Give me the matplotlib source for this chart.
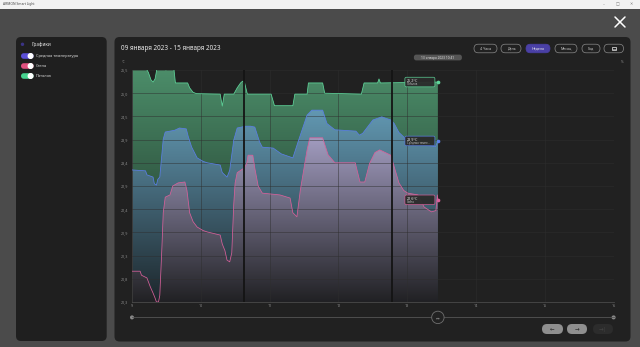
import numpy as np
import matplotlib
matplotlib.use("Agg")
import matplotlib.pyplot as plt
from matplotlib.patches import FancyBboxPatch, Rectangle, Circle, PathPatch
from matplotlib.colors import LinearSegmentedColormap

plt.rcParams['font.family'] = ['Noto Sans', 'DejaVu Sans']

# ---------------- data ----------------
ceiling_days = [9.00, 9.197, 9.237, 9.276, 9.306, 9.335, 9.365, 9.444, 9.493, 9.542, 9.611, 9.631,
                9.809, 9.838, 9.888, 9.937, 10.282, 10.312, 10.341, 10.479, 10.529, 10.578, 10.608,
                10.637, 10.677, 11.022, 11.071, 11.338, 11.367, 11.545, 11.564, 11.771, 11.801,
                12.334, 12.373, 12.570, 12.590, 12.610, 13.446]
ceiling_temp = [25.55, 25.55, 25.45, 25.28, 25.23, 25.30, 25.55, 25.55, 25.50, 25.55, 25.50, 25.21,
                25.21, 25.10, 25.00, 24.97, 24.96, 24.69, 24.96, 24.96, 25.10, 25.21, 25.25,
                25.21, 24.96, 24.96, 24.70, 24.70, 24.96, 24.96, 25.21, 25.21, 24.98,
                24.96, 25.21, 25.21, 25.30, 25.21, 25.23]

avg_days = [9.00, 9.197, 9.217, 9.306, 9.325, 9.355, 9.375, 9.404, 9.454, 9.483, 9.621, 9.690,
            9.789, 9.819, 9.868, 9.947, 10.036, 10.095, 10.282, 10.312, 10.381, 10.420, 10.479,
            10.529, 10.647, 10.726, 10.785, 10.854, 10.894, 11.052, 11.170, 11.338, 11.416,
            11.545, 11.614, 11.771, 11.834, 11.949, 12.255, 12.304, 12.353, 12.501, 12.630,
            12.762, 12.811, 12.880, 12.949, 13.008, 13.182, 13.340, 13.409, 13.446]
avg_temp = [23.26, 23.24, 23.15, 23.10, 22.95, 22.92, 23.05, 23.10, 23.95, 24.11, 24.15, 24.20,
            24.18, 24.00, 23.77, 23.53, 23.45, 23.42, 23.37, 23.20, 23.10, 23.25, 23.93,
            24.20, 24.24, 24.24, 24.22, 23.89, 23.77, 23.75, 23.62, 23.53, 23.90,
            24.49, 24.60, 24.60, 24.30, 24.16, 24.13, 24.04, 24.08, 24.38, 24.45,
            24.38, 24.30, 24.10, 24.00, 23.85, 23.82, 23.80, 23.78, 23.91]

wall_days = [9.00, 9.118, 9.138, 9.217, 9.266, 9.306, 9.335, 9.355, 9.385, 9.404, 9.434, 9.454,
             9.483, 9.552, 9.592, 9.671, 9.769, 9.799, 9.838, 9.888, 9.947, 10.036, 10.095,
             10.282, 10.312, 10.351, 10.381, 10.420, 10.450, 10.479, 10.499, 10.529, 10.627,
             10.667, 10.687, 10.756, 10.785, 10.834, 10.894, 11.150, 11.298, 11.338, 11.397,
             11.446, 11.545, 11.584, 11.771, 11.850, 11.949, 12.245, 12.314, 12.383, 12.452,
             12.531, 12.600, 12.762, 12.811, 12.880, 12.949, 13.008, 13.156, 13.245, 13.353,
             13.417, 13.438, 13.446]
wall_temp = [20.99, 20.99, 20.90, 20.84, 20.64, 20.50, 20.39, 20.30, 20.30, 20.45, 21.50, 22.30,
             22.65, 22.70, 22.90, 22.97, 22.99, 22.80, 22.30, 22.10, 21.98, 21.90, 21.87,
             21.80, 21.60, 21.45, 21.24, 21.20, 21.40, 22.50, 22.97, 23.20, 23.30,
             23.40, 23.59, 23.59, 23.30, 22.90, 22.74, 22.70, 22.63, 22.30, 22.21,
             22.80, 23.71, 23.98, 23.98, 23.60, 23.42, 23.42, 22.99, 22.99, 23.40,
             23.65, 23.71, 23.59, 23.33, 22.97, 22.80, 22.74, 22.70, 22.43, 22.32,
             22.35, 22.70, 22.59]

gap_days = [10.628, 12.779]
cursor_day = 13.446

legend_labels = ["Средняя температура", "Стена", "Потолок"]
tooltip_names = ["Потолок", "Средняя темпе...", "Стена"]
tooltip_values = ["25,2°C", "23,9°C", "22,6°C"]
x_ticks = [9, 10, 11, 12, 13, 14, 15, 16]
x_tick_labels = ["9", "10", "11", "12", "13", "14", "15", "16"]
y_ticks = [20.3, 20.82, 21.34, 21.86, 22.38, 22.9, 23.42, 23.94, 24.46, 24.98, 25.5]
y_tick_labels = ["20,3", "20,8", "21,3", "21,9", "22,4", "22,9", "23,4", "23,9", "24,5", "25,0", "25,5"]
period_buttons = ["4 Часа", "День", "Неделя", "Месяц", "Год"]
title_text = "09 января 2023 - 15 января 2023"
cursor_text = "13 января 2023 10:41"

# ---------------- style ----------------
C_CEIL = '#5fd69b'
C_AVG = '#5b7ee6'
C_WALL = '#d8609a'
TOGGLE_COLS = ['#5b4fd6', '#e0507e', '#45d38f']
W, H = 640, 347
Y0, Y1 = 20.3, 25.5

fig = plt.figure(figsize=(6.4, 3.47), dpi=100)
fig.patch.set_facecolor('#4b4b4b')

bg = fig.add_axes([0, 0, 1, 1])
bg.set_xlim(0, W)
bg.set_ylim(H, 0)
bg.axis('off')

# title bar
bg.add_patch(Rectangle((0, 0), W, 8.5, color='#f2f2f2', lw=0))
bg.text(3, 4.4, "ARMON Smart Light", fontsize=2.4, color='#444', va='center')
for xx, s in [(604, '–'), (617, '□'), (631, '✕')]:
    bg.text(xx, 4.4, s, fontsize=2.8, color='#777', va='center', ha='center')

# close X
bg.plot([615, 625], [17, 27], color='white', lw=1.1, solid_capstyle='round')
bg.plot([615, 625], [27, 17], color='white', lw=1.1, solid_capstyle='round')

# panels
bg.add_patch(FancyBboxPatch((16, 37), 90.7, 304, boxstyle="round,pad=0,rounding_size=5",
                            fc='#1f1f1f', ec='none'))
bg.add_patch(FancyBboxPatch((114.5, 37), 516, 304.5, boxstyle="round,pad=0,rounding_size=5",
                            fc='#212121', ec='none'))

# left panel legend
bg.add_patch(Circle((22.5, 44.3), 1.0, color='#3b3486'))
bg.text(31, 44.3, "Графики", fontsize=3.4, color='#e0e0e0', va='center')
for i, (lab, col) in enumerate(zip(legend_labels, TOGGLE_COLS)):
    yy = 56 + i * 10
    bg.add_patch(FancyBboxPatch((21, yy - 2.8), 12.5, 5.6, boxstyle="round,pad=0,rounding_size=2.8",
                                fc=col, ec='none'))
    bg.add_patch(Circle((30.6, yy), 2.3, color='white'))
    bg.text(36, yy, lab, fontsize=2.8, color='#d8d8d8', va='center')

# header
bg.text(121, 48.5, title_text, fontsize=4.6, color='#e6e6e6', va='center')
btn_x = [(474, 497), (501, 521), (526, 550), (555, 577), (582, 600)]
for (x0, x1), lab in zip(btn_x, period_buttons):
    active = lab == "Неделя"
    bg.add_patch(FancyBboxPatch((x0, 44.2), x1 - x0, 8.6, boxstyle="round,pad=0,rounding_size=4.3",
                                fc='#4a40a6' if active else '#212121',
                                ec='#4a40a6' if active else '#8a8a8a', lw=0.5))
    bg.text((x0 + x1) / 2, 48.6, lab, fontsize=2.6, color='#e8e8e8' if active else '#c8c8c8',
            ha='center', va='center')
bg.add_patch(FancyBboxPatch((604, 44.2), 19.5, 8.6, boxstyle="round,pad=0,rounding_size=4.3",
                            fc='#212121', ec='#8a8a8a', lw=0.5))
bg.add_patch(Rectangle((611.6, 46.6), 4.2, 3.8, fc='none', ec='#cfcfcf', lw=0.6))
bg.plot([611.6, 615.8], [48.5, 48.5], color='#cfcfcf', lw=0.4)

# unit labels
bg.text(122, 62, "°C", fontsize=2.5, color='#8a8a8a', va='center')
bg.text(622, 62, "%", fontsize=2.5, color='#8a8a8a', va='center', ha='center')

# ---------------- chart ----------------
ax = fig.add_axes([132 / W, (H - 302) / H, (613.6 - 132) / W, 232 / H])
ax.set_facecolor('none')


def gradient_area(x, y, top_rgb, bot_rgb, z):
    x = np.asarray(x, float)
    y = np.asarray(y, float)
    coll = ax.fill_between(x, y, Y0, facecolor='none', edgecolor='none')
    path = coll.get_paths()[0]
    cmap = LinearSegmentedColormap.from_list('g', [bot_rgb, top_rgb])
    grad = np.linspace(0, 1, 256).reshape(-1, 1)
    im = ax.imshow(grad, extent=[x.min(), x.max(), Y0, y.max()], origin='lower',
                   aspect='auto', cmap=cmap, zorder=z, interpolation='bilinear')
    patch = PathPatch(path, transform=ax.transData, facecolor='none', edgecolor='none')
    ax.add_patch(patch)
    im.set_clip_path(patch)


gradient_area(ceiling_days, ceiling_temp, '#4c8e6a', '#19281f', 1.0)
gradient_area(avg_days, avg_temp, '#6298b2', '#1c262b', 1.1)
gradient_area(wall_days, wall_temp, '#a29cc0', '#212124', 1.2)

ax.plot(ceiling_days, ceiling_temp, color=C_CEIL, lw=0.55, zorder=4)
ax.plot(avg_days, avg_temp, color=C_AVG, lw=0.55, zorder=4)
ax.plot(wall_days, wall_temp, color=C_WALL, lw=0.55, zorder=4)

for g in gap_days:
    ax.axvline(g, color='#141414', lw=1.3, zorder=5)

ax.set_xlim(9, 16)
ax.set_ylim(Y0, Y1)
ax.set_xticks(x_ticks)
ax.set_xticklabels(x_tick_labels)
ax.set_yticks(y_ticks)
ax.set_yticklabels(y_tick_labels)
ax.tick_params(axis='both', length=0, labelsize=2.7, labelcolor='#8a8a8a')
ax.tick_params(axis='x', pad=1.5)
ax.tick_params(axis='y', pad=2.5)
ax.set_axisbelow(False)
ax.grid(True, color='#2e2e2e', lw=0.55, alpha=0.6)
for s in ['top', 'right']:
    ax.spines[s].set_visible(False)
for s in ['left', 'bottom']:
    ax.spines[s].set_color('#4a4a4a')
    ax.spines[s].set_linewidth(0.6)

last_pts = [(ceiling_days[-1], ceiling_temp[-1], C_CEIL),
            (avg_days[-1], avg_temp[-1], C_AVG),
            (wall_days[-1], wall_temp[-1], C_WALL)]
for (xd, yd, col) in last_pts:
    ax.scatter([xd], [yd], s=7, color=col, zorder=6, linewidths=0)

fig.canvas.draw()


def to_bg(xd, yd):
    px, py = ax.transData.transform((xd, yd))
    return px, H - py


# cursor line + date tooltip
cx, _ = to_bg(cursor_day, Y1)
bg.plot([cx, cx], [60.4, 317.4], color='#7a7a7a', lw=0.5, zorder=0.5)
bg.add_patch(FancyBboxPatch((cx - 24, 54.6), 48, 5.8, boxstyle="round,pad=0,rounding_size=2.4",
                            fc='#555555', ec='none'))
bg.text(cx, 57.5, cursor_text, fontsize=2.3, color='#e0e0e0', ha='center', va='center')

# value tooltips
tip_ax = fig.add_axes([0, 0, 1, 1])
tip_ax.set_xlim(0, W)
tip_ax.set_ylim(H, 0)
tip_ax.axis('off')
for (xd, yd, col), name, val in zip(last_pts, tooltip_names, tooltip_values):
    px, py = to_bg(xd, yd)
    x0 = px - 33
    y0 = py - 4.8
    tip_ax.add_patch(FancyBboxPatch((x0, y0), 30, 9.6, boxstyle="round,pad=0,rounding_size=1.5",
                                    fc='#2b2b2b', ec=col, lw=0.5, alpha=0.95))
    tip_ax.text(x0 + 2, y0 + 3.0, val, fontsize=2.7, color='#e6e6e6', va='center')
    tip_ax.text(x0 + 2, y0 + 7.0, name, fontsize=2.0, color='#bdbdbd', va='center')

# slider
lx0, _ = to_bg(9, Y0)
lx1, _ = to_bg(16, Y0)
bg.plot([lx0, lx1], [317.4, 317.4], color='#555555', lw=0.6)
bg.add_patch(Circle((lx0, 317.4), 1.3, color='#8a8a8a'))
bg.add_patch(Circle((lx1, 317.4), 1.3, color='#8a8a8a'))
bg.add_patch(Circle((cx, 317.4), 6.2, fc='#222222', ec='#707070', lw=0.6, zorder=3))
bg.text(cx, 317.6, "↔", fontsize=3.2, color='#9a9a9a', ha='center', va='center', zorder=4)

# nav buttons
for (x0, x1), s, fc, tc in [((542, 563), "←", '#8f8f8f', '#2a2a2a'),
                            ((567, 587), "→", '#8f8f8f', '#2a2a2a'),
                            ((593, 613), "→|", '#2c2c2c', '#444444')]:
    bg.add_patch(FancyBboxPatch((x0, 324), x1 - x0, 10, boxstyle="round,pad=0,rounding_size=5",
                                fc=fc, ec='none'))
    bg.text((x0 + x1) / 2, 329, s, fontsize=4, color=tc, ha='center', va='center')

fig.savefig("out.png", dpi=100, facecolor=fig.get_facecolor())
